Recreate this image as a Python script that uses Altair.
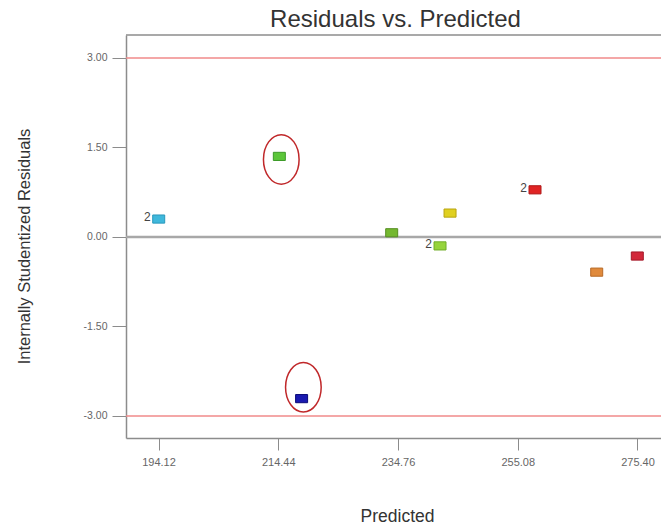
import altair as alt
import pandas as pd

# Design points: predicted response vs. internally studentized residual
predicted = [194.15, 214.62, 218.40, 233.69, 243.59, 241.89, 258.01, 268.48, 275.37]
residuals = [0.30, 1.35, -2.71, 0.07, 0.40, -0.15, 0.79, -0.59, -0.32]
run_counts = ["2", "", "", "", "", "2", "2", "", ""]
fill_colors = ["#3fb8dc", "#5cc63a", "#1a1ab0", "#74b830", "#e0d020",
               "#96d43c", "#e02424", "#e08a3c", "#d2283a"]
edge_colors = ["#2a98bc", "#3c9a28", "#0a0a78", "#568e20", "#b8a410",
               "#70ac28", "#b01818", "#b86a26", "#a41828"]

# Highlighted outliers (ellipse centres)
outlier_x = [214.95, 218.70]
outlier_y = [1.30, -2.52]

# Reference lines: control limits at +/-3 and the zero line
limit_values = [3.0, -3.0]
zero_value = [0.0]

x_ticks = [194.12, 214.44, 234.76, 255.08, 275.40]
y_ticks = [-3.0, -1.5, 0.0, 1.5, 3.0]
x_domain = [188.6, 279.39]
y_domain = [-3.37, 3.385]

FONT = "Liberation Sans"

pts = pd.DataFrame({
    "predicted": predicted,
    "residual": residuals,
    "count": run_counts,
    "fill": fill_colors,
    "edge": edge_colors,
})
labels = pts[pts["count"] != ""]
outliers = pd.DataFrame({"predicted": outlier_x, "residual": outlier_y})
limits = pd.DataFrame({"residual": limit_values})
zero = pd.DataFrame({"residual": zero_value})
top = pd.DataFrame({"residual": [y_domain[1]]})

x_scale = alt.Scale(domain=x_domain, nice=False, zero=False)
y_scale = alt.Scale(domain=y_domain, nice=False, zero=False)

x_enc = alt.X(
    "predicted:Q", scale=x_scale,
    axis=alt.Axis(
        title="Predicted", values=x_ticks, format=".2f",
        titleX=271, titleY=83, titleBaseline="alphabetic", titleAlign="center",
    ),
)
y_enc = alt.Y(
    "residual:Q", scale=y_scale,
    axis=alt.Axis(
        title="Internally Studentized Residuals", values=y_ticks, format=".2f",
        labelExpr="replace(datum.label, '\u2212', '-')",
        titleX=-97, titleY=211, titleAngle=-90, titleBaseline="alphabetic",
        titleAlign="center",
    ),
)

rect_shape = "M-1,-0.68L1,-0.68L1,0.68L-1,0.68Z"
ellipse_shape = "M-0.72,0A0.72,1,0,1,0,0.72,0A0.72,1,0,1,0,-0.72,0Z"

limit_rules = alt.Chart(limits).mark_rule(color="#f08a8a", strokeWidth=1.5).encode(
    y=alt.Y("residual:Q", scale=y_scale)
)
zero_rule = alt.Chart(zero).mark_rule(color="#a8a8a8", strokeWidth=2.5).encode(
    y=alt.Y("residual:Q", scale=y_scale)
)
top_rule = alt.Chart(top).mark_rule(color="#8c8c8c", strokeWidth=1.5).encode(
    y=alt.Y("residual:Q", scale=y_scale)
)

points = alt.Chart(pts).mark_point(
    shape=rect_shape, size=144, filled=True, opacity=1, strokeWidth=1
).encode(
    x=x_enc,
    y=y_enc,
    fill=alt.Fill("fill:N", scale=None),
    stroke=alt.Stroke("edge:N", scale=None),
)

count_labels = alt.Chart(labels).mark_text(
    align="right", baseline="middle", dx=-8, dy=-2, fontSize=12,
    font=FONT, color="#444444",
).encode(
    x=alt.X("predicted:Q", scale=x_scale),
    y=alt.Y("residual:Q", scale=y_scale),
    text="count:N",
)

rings = alt.Chart(outliers).mark_point(
    shape=ellipse_shape, size=2450, filled=False, color="#c0282a",
    strokeWidth=1.5, opacity=1,
).encode(
    x=alt.X("predicted:Q", scale=x_scale),
    y=alt.Y("residual:Q", scale=y_scale),
)

chart = alt.layer(
    limit_rules, zero_rule, top_rule, points, count_labels, rings
).properties(
    width=535,
    height=403,
    title=alt.TitleParams(
        "Residuals vs. Predicted", anchor="middle", fontSize=24, font=FONT,
        fontWeight="normal", color="#333333", offset=2, dx=2,
    ),
    autosize=alt.AutoSizeParams(type="none"),
    padding={"left": 126, "top": 35, "right": 0, "bottom": 90},
).configure_view(
    stroke=None
).configure_axis(
    grid=False,
    domainColor="#8c8c8c",
    domainWidth=1.5,
    tickColor="#8c8c8c",
    tickWidth=1,
    labelFont=FONT,
    labelColor="#666666",
    titleFont=FONT,
    titleColor="#333333",
    titleFontWeight="normal",
).configure_axisX(
    tickSize=12, labelPadding=6, labelFontSize=11, titleFontSize=17.5,
).configure_axisY(
    tickSize=14, labelPadding=5, labelFontSize=10.5, titleFontSize=16.5,
)

chart.save("out.html", embed_options={"renderer": "svg", "actions": False})
